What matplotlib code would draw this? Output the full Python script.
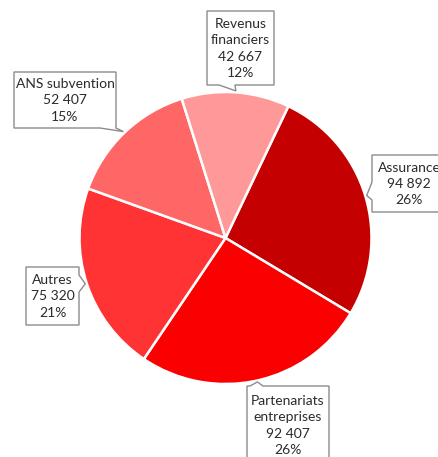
import matplotlib.pyplot as plt
import numpy as np
from matplotlib.patches import Polygon

# data (clockwise from the first slice)
categories = ['Assurance', 'Partenariats\nentreprises', 'Autres', 'ANS subvention', 'Revenus\nfinanciers']
values = [94892, 92407, 75320, 52407, 42667]
pct_labels = ['26%', '26%', '21%', '15%', '12%']
colors = ['#C40000', '#FA0000', '#FF3333', '#FF6666', '#FF9999']

W, H = 438, 457
fig = plt.figure(figsize=(W / 100, H / 100), dpi=100)
fig.patch.set_facecolor('white')

# pie axes : centre (225.5, 238) px, radius 146 px
cx, cy, R = 225.5, 238, 146
ax = fig.add_axes([(cx - R) / W, (H - cy - R) / H, 2 * R / W, 2 * R / H])
wedges, _ = ax.pie(values, colors=colors, startangle=64.5, counterclock=False,
                   wedgeprops=dict(edgecolor='white', linewidth=1.8))
ax.set_xlim(-1, 1)
ax.set_ylim(-1, 1)
ax.set_aspect('equal')
ax.axis('off')

# overlay in pixel coords (y down) for the callouts
ov = fig.add_axes([0, 0, 1, 1], zorder=5)
ov.set_xlim(0, W)
ov.set_ylim(H, 0)
ov.axis('off')

# box (x0, y0, x1, y1), side of pointer, pointer base (a, b)
boxes = [
    ((372, 155, 446, 212), 'left', (182, 200)),
    ((247, 386, 329, 464), 'top', (250, 263)),
    ((26, 267, 79, 325), 'right', (275, 292)),
    ((14, 72, 116, 128), 'bottom', (100, 116)),
    ((207, 11, 274, 85), 'bottom', (219, 235)),
]


def outline(box, side, base, tip):
    x0, y0, x1, y1 = box
    a, b = base
    if side == 'top':
        pts = [(x0, y0), (a, y0), tip, (b, y0), (x1, y0), (x1, y1), (x0, y1)]
    elif side == 'right':
        pts = [(x0, y0), (x1, y0), (x1, a), tip, (x1, b), (x1, y1), (x0, y1)]
    elif side == 'bottom':
        pts = [(x0, y0), (x1, y0), (x1, y1), (b, y1), tip, (a, y1), (x0, y1)]
    else:
        pts = [(x0, y0), (x1, y0), (x1, y1), (x0, y1), (x0, b), tip, (x0, a)]
    return pts


for w, cat, val, pct, (box, side, base) in zip(wedges, categories, values, pct_labels, boxes):
    mid = np.deg2rad((w.theta1 + w.theta2) / 2)
    tip = (cx + R * 1.01 * np.cos(mid), cy - R * 1.01 * np.sin(mid))
    poly = Polygon(outline(box, side, base, tip), closed=True, facecolor='white',
                   edgecolor='#8c8c8c', linewidth=1.0, joinstyle='miter')
    ov.add_patch(poly)
    txt = f"{cat}\n{val:,}".replace(',', ' ') + f"\n{pct}"
    ov.text((box[0] + box[2]) / 2, (box[1] + box[3]) / 2 + 0.5, txt, ha='center', va='center',
            multialignment='center', fontsize=10, family='Lato', color='#2b2b2b',
            linespacing=1.42)

plt.savefig('out.png', dpi=100, facecolor='white')
